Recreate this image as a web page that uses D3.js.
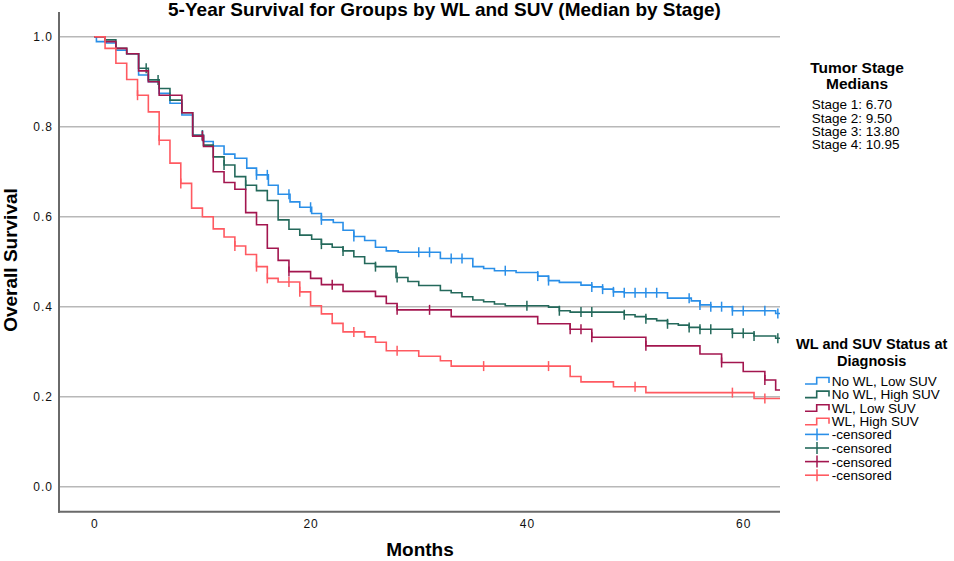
<!DOCTYPE html>
<html>
<head>
<meta charset="utf-8">
<script src="https://cdn.jsdelivr.net/npm/d3@7"></script>
<style>
  body { margin: 0; background: #fff; }
  svg { font-family: "Liberation Sans", Arial, sans-serif; }
  .grid line { stroke: #b8b8b8; stroke-width: 1.5; }
  .tick text { font-size: 12px; letter-spacing: 1px; fill: #111; }
</style>
</head>
<body>
<svg id="chart" width="954" height="561"></svg>
<script>
// series names and colours
const groups = ["No WL, Low SUV", "No WL, High SUV", "WL, Low SUV", "WL, High SUV"];
const colors = ["#2a8fe8", "#24695b", "#a3164f", "#ff5a61"];

// step times (months) and survival after each step
const blueTimes = [0.2, 1.1, 2, 3, 4.1, 5, 6, 7, 8.1, 9.1, 10.1, 11, 12, 13, 14.1, 15, 16.1, 17, 18.1, 19, 20.1, 21, 22.1, 23, 24, 25, 26, 27, 28.1, 32, 35, 36, 37, 39, 41, 42, 43, 45, 46, 47, 48, 49, 53, 55.2, 56, 57, 59, 63];
const blueSurv = [0.989, 0.986, 0.97, 0.962, 0.915, 0.9, 0.874, 0.852, 0.826, 0.781, 0.767, 0.757, 0.739, 0.73, 0.708, 0.693, 0.67, 0.65, 0.633, 0.621, 0.607, 0.593, 0.587, 0.57, 0.556, 0.547, 0.532, 0.524, 0.521, 0.507, 0.489, 0.485, 0.48, 0.476, 0.468, 0.458, 0.454, 0.448, 0.444, 0.439, 0.433, 0.431, 0.419, 0.413, 0.404, 0.4, 0.391, 0.385];
const blueCensor = [10, 15, 16, 18, 20, 21, 24, 30, 31, 33, 34, 38, 41, 42, 46, 47, 48, 49, 50, 51, 52, 55, 56, 57, 58, 59, 60, 62, 63.2];

const greenTimes = [1, 2, 3, 4.1, 5, 6, 7, 8.1, 9.1, 10.1, 11, 12, 13, 14, 15, 16, 17, 18, 19, 20.1, 21, 22, 23, 24, 25, 26, 27.9, 29, 30, 32, 33, 34, 35, 36, 37, 38, 42, 43, 44, 49, 50, 51, 52, 53, 54, 55, 56, 59, 61, 63];
const greenSurv = [0.993, 0.974, 0.962, 0.93, 0.904, 0.885, 0.859, 0.831, 0.781, 0.759, 0.733, 0.715, 0.689, 0.67, 0.658, 0.636, 0.593, 0.572, 0.559, 0.55, 0.539, 0.532, 0.524, 0.511, 0.496, 0.489, 0.465, 0.456, 0.447, 0.436, 0.431, 0.422, 0.415, 0.411, 0.406, 0.402, 0.399, 0.391, 0.388, 0.382, 0.378, 0.373, 0.369, 0.362, 0.359, 0.354, 0.35, 0.341, 0.335, 0.33];
const greenCensor = [4.8, 5.9, 10, 12, 14, 21, 23, 26, 28, 40, 43, 45, 46, 49, 51, 53, 55, 56, 57, 59, 60, 61, 63.2];

const purpleTimes = [1, 2, 3, 4.1, 5, 6, 8.1, 9.1, 10.1, 11, 12, 13, 14, 15, 16, 17, 18, 20, 21, 23, 26, 27, 28, 33, 41, 44, 46, 51, 56, 58, 60, 62, 63];
const purpleSurv = [0.989, 0.974, 0.962, 0.924, 0.9, 0.87, 0.831, 0.779, 0.756, 0.7, 0.676, 0.661, 0.609, 0.582, 0.53, 0.503, 0.478, 0.463, 0.449, 0.434, 0.423, 0.407, 0.393, 0.378, 0.362, 0.35, 0.332, 0.313, 0.295, 0.276, 0.256, 0.237, 0.215];
const purpleCensor = [10, 18, 22, 28, 31, 44, 45, 46, 51, 58, 62];

const redTimes = [1, 2, 3, 4, 5, 6, 7, 8, 9, 10, 11, 12, 13, 14, 15, 16, 17, 19, 20, 21, 22, 23, 25, 26, 27, 30, 32, 33, 44, 45, 48, 51, 61];
const redSurv = [0.974, 0.941, 0.905, 0.87, 0.833, 0.77, 0.719, 0.674, 0.619, 0.6, 0.573, 0.555, 0.535, 0.516, 0.489, 0.463, 0.455, 0.433, 0.402, 0.384, 0.363, 0.344, 0.333, 0.321, 0.302, 0.29, 0.28, 0.268, 0.245, 0.233, 0.222, 0.209, 0.196];
const redCensor = [4, 6, 8, 13, 15, 16, 18, 19, 24, 28, 36, 42, 50, 59, 62];

const stageMedians = ["Stage 1: 6.70", "Stage 2: 9.50", "Stage 3: 13.80", "Stage 4: 10.95"];
const xTicks = [0, 20, 40, 60];
const yTicks = [0, 0.2, 0.4, 0.6, 0.8, 1.0];
const lastMonth = 63.4;

const series = [
  { name: groups[0], color: colors[0], times: blueTimes, surv: blueSurv, censor: blueCensor },
  { name: groups[1], color: colors[1], times: greenTimes, surv: greenSurv, censor: greenCensor },
  { name: groups[2], color: colors[2], times: purpleTimes, surv: purpleSurv, censor: purpleCensor },
  { name: groups[3], color: colors[3], times: redTimes, surv: redSurv, censor: redCensor }
];

const svg = d3.select("#chart");

const x = d3.scaleLinear().domain([-3.26, 63.4]).range([59, 780]);
const y = d3.scaleLinear().domain([-0.0556, 1.0549]).range([511.7, 12]);

// horizontal gridlines
svg.append("g")
  .attr("class", "grid")
  .selectAll("line")
  .data(yTicks)
  .enter().append("line")
  .attr("x1", x.range()[0]).attr("x2", x.range()[1])
  .attr("y1", d => y(d)).attr("y2", d => y(d));

// axes
const yAxis = svg.append("g")
  .attr("transform", "translate(" + x.range()[0] + ",0)")
  .call(d3.axisLeft(y).tickValues(yTicks).tickFormat(d3.format(".1f")).tickSize(0).tickPadding(6));
yAxis.select(".domain").remove();

const xAxis = svg.append("g")
  .attr("transform", "translate(0," + y.range()[0] + ")")
  .call(d3.axisBottom(x).tickValues(xTicks).tickFormat(d3.format("d")).tickSize(0).tickPadding(8));
xAxis.select(".domain").remove();

svg.append("line")
  .attr("x1", 59).attr("x2", 59).attr("y1", 12).attr("y2", 512.7)
  .attr("stroke", "#6a6a6a").attr("stroke-width", 2);
svg.append("line")
  .attr("x1", 58).attr("x2", 780).attr("y1", 511.7).attr("y2", 511.7)
  .attr("stroke", "#6a6a6a").attr("stroke-width", 2);

// survival value at time t (step after)
function survAt(s, t) {
  let v = 1;
  s.times.forEach((tt, i) => { if (tt <= t) v = s.surv[i]; });
  return v;
}

const line = d3.line()
  .x(d => x(d[0]))
  .y(d => y(d[1]))
  .curve(d3.curveStepAfter);

series.forEach(function (s) {
  const pts = [[0, 1]].concat(s.times.map((t, i) => [t, s.surv[i]]));
  pts.push([lastMonth, s.surv[s.surv.length - 1]]);
  svg.append("path")
    .datum(pts)
    .attr("d", line)
    .attr("fill", "none")
    .attr("stroke", s.color)
    .attr("stroke-width", 1.6);

  svg.selectAll(null)
    .data(s.censor)
    .enter().append("line")
    .attr("x1", d => x(d)).attr("x2", d => x(d))
    .attr("y1", d => y(survAt(s, d)) - 5)
    .attr("y2", d => y(survAt(s, d)) + 5)
    .attr("stroke", s.color)
    .attr("stroke-width", 1.5);
});

// title and axis titles
svg.append("text")
  .attr("x", 444.5).attr("y", 16)
  .attr("text-anchor", "middle")
  .style("font-size", "19px").style("font-weight", "bold")
  .text("5-Year Survival for Groups by WL and SUV (Median by Stage)");

svg.append("text")
  .attr("x", 420).attr("y", 556)
  .attr("text-anchor", "middle")
  .style("font-size", "19px").style("font-weight", "bold")
  .text("Months");

svg.append("text")
  .attr("transform", "translate(16.5,260) rotate(-90)")
  .attr("text-anchor", "middle")
  .style("font-size", "19px").style("font-weight", "bold")
  .text("Overall Survival");

// tumor stage box
svg.append("text")
  .attr("x", 857).attr("y", 73.3)
  .attr("text-anchor", "middle")
  .style("font-size", "15.5px").style("font-weight", "bold")
  .text("Tumor Stage");
svg.append("text")
  .attr("x", 857).attr("y", 89)
  .attr("text-anchor", "middle")
  .style("font-size", "15.5px").style("font-weight", "bold")
  .text("Medians");
svg.selectAll(".stage")
  .data(stageMedians)
  .enter().append("text")
  .attr("class", "stage")
  .attr("x", 811.7)
  .attr("y", (d, i) => 109.3 + i * 13.35)
  .style("font-size", "13.5px")
  .text(d => d);

// legend
svg.append("text")
  .attr("x", 871.7).attr("y", 349)
  .attr("text-anchor", "middle")
  .style("font-size", "14.5px").style("font-weight", "bold")
  .text("WL and SUV Status at");
svg.append("text")
  .attr("x", 871.7).attr("y", 365.5)
  .attr("text-anchor", "middle")
  .style("font-size", "14.5px").style("font-weight", "bold")
  .text("Diagnosis");

const legend = svg.append("g");
series.forEach(function (s, i) {
  const cy = 380 + i * 13.6;
  legend.append("path")
    .attr("d", "M805," + (cy + 4) + "H816.7V" + (cy - 2.5) + "H829V" + (cy + 3))
    .attr("fill", "none").attr("stroke", s.color).attr("stroke-width", 1.6);
  legend.append("text")
    .attr("x", 831.7).attr("y", cy + 5.5)
    .style("font-size", "13.5px")
    .text(s.name);
});
series.forEach(function (s, i) {
  const cy = 380 + (i + 4) * 13.6;
  legend.append("line")
    .attr("x1", 805).attr("x2", 829).attr("y1", cy).attr("y2", cy)
    .attr("stroke", s.color).attr("stroke-width", 1.6);
  legend.append("line")
    .attr("x1", 817).attr("x2", 817).attr("y1", cy - 6).attr("y2", cy + 6)
    .attr("stroke", s.color).attr("stroke-width", 1.5);
  legend.append("text")
    .attr("x", 831.7).attr("y", cy + 5)
    .style("font-size", "13.5px")
    .text("-censored");
});
</script>
</body>
</html>
